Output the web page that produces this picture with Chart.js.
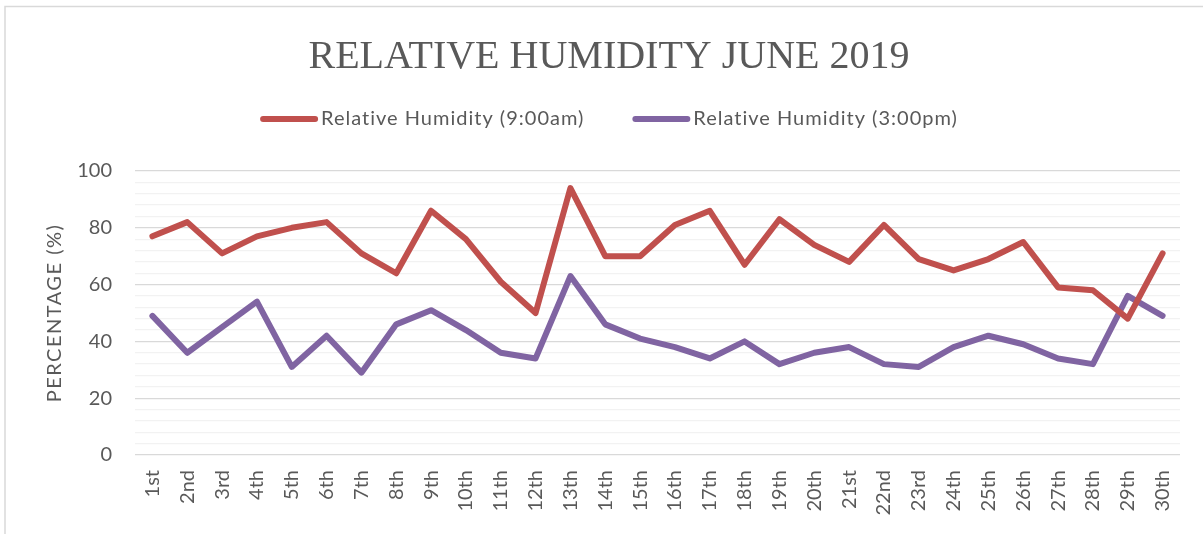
<!DOCTYPE html>
<html>
<head>
<meta charset="utf-8">
<script src="https://cdn.jsdelivr.net/npm/chart.js@4"></script>
<style>
  html, body { margin: 0; padding: 0; background: #fff; }
  #wrap { width: 1203px; height: 534px; }
</style>
</head>
<body>
<div id="wrap"><canvas id="myChart" width="1203" height="534"></canvas></div>
<script>
// data
const chartTitle = 'RELATIVE HUMIDITY JUNE 2019';
const yTitle = 'PERCENTAGE (%)';
const days = ['1st', '2nd', '3rd', '4th', '5th', '6th', '7th', '8th', '9th', '10th',
  '11th', '12th', '13th', '14th', '15th', '16th', '17th', '18th', '19th', '20th',
  '21st', '22nd', '23rd', '24th', '25th', '26th', '27th', '28th', '29th', '30th'];
const seriesNames = ['Relative Humidity (9:00am)', 'Relative Humidity (3:00pm)'];
const humidityAm = [77, 82, 71, 77, 80, 82, 71, 64, 86, 76, 61, 50, 94, 70, 70,
  81, 86, 67, 83, 74, 68, 81, 69, 65, 69, 75, 59, 58, 48, 71];
const humidityPm = [49, 36, 45, 54, 31, 42, 29, 46, 51, 44, 36, 34, 63, 46, 41,
  38, 34, 40, 32, 36, 38, 32, 31, 38, 42, 39, 34, 32, 56, 49];
const seriesColors = ['#C0504D', '#8064A2'];

const textColor = '#595959';
const sansFont = 'Lato';

// title, legend, y axis title and the outer frame
const framePlugin = {
  id: 'frame',
  beforeDraw: (chart) => {
    const ctx = chart.ctx;
    ctx.save();
    ctx.fillStyle = '#fff';
    ctx.fillRect(0, 0, chart.width, chart.height);
    ctx.strokeStyle = '#d9d9d9';
    ctx.lineWidth = 1.5;
    ctx.strokeRect(5, 6.5, chart.width + 20, chart.height + 20);
    ctx.restore();
  },
  afterDraw: (chart) => {
    const ctx = chart.ctx;
    const area = chart.chartArea;
    const cx = 609;
    ctx.save();
    ctx.fillStyle = textColor;
    ctx.textBaseline = 'middle';
    ctx.textAlign = 'center';
    ctx.font = '40px "Liberation Serif"';
    ctx.fillText(chartTitle, cx, 57);

    // legend
    ctx.font = '20px ' + sansFont;
    ctx.letterSpacing = '1px';
    ctx.textAlign = 'left';
    const lineLen = 58, gap = 3, between = 48;
    const widths = seriesNames.map((n) => ctx.measureText(n).width);
    const total = widths.reduce((a, w) => a + lineLen + gap + w, 0) + between;
    let x = cx - total / 2;
    seriesNames.forEach((name, i) => {
      ctx.strokeStyle = seriesColors[i];
      ctx.lineWidth = 6;
      ctx.lineCap = 'round';
      ctx.beginPath();
      ctx.moveTo(x + 3, 119);
      ctx.lineTo(x + lineLen - 3, 119);
      ctx.stroke();
      ctx.fillText(name, x + lineLen + gap, 119);
      x += lineLen + gap + widths[i] + between;
    });

    // y axis title
    ctx.font = '20px ' + sansFont;
    ctx.letterSpacing = '1.5px';
    ctx.textAlign = 'center';
    ctx.translate(55, (area.top + area.bottom) / 2);
    ctx.rotate(-Math.PI / 2);
    ctx.fillText(yTitle, 0, 0);
    ctx.restore();
  },
};

const ctx = document.getElementById('myChart');

new Chart(ctx, {
  type: 'line',
  data: {
    labels: days,
    datasets: [
      {
        label: seriesNames[0],
        data: humidityAm,
        borderColor: seriesColors[0],
        backgroundColor: seriesColors[0],
      },
      {
        label: seriesNames[1],
        data: humidityPm,
        borderColor: seriesColors[1],
        backgroundColor: seriesColors[1],
      },
    ],
  },
  options: {
    responsive: false,
    animation: false,
    layout: { padding: { top: 171, right: 23, left: 0, bottom: 0 } },
    elements: {
      line: { borderWidth: 6, tension: 0, borderJoinStyle: 'round', borderCapStyle: 'round' },
      point: { radius: 0, hoverRadius: 0 },
    },
    plugins: {
      legend: { display: false },
      title: { display: false },
      tooltip: { enabled: false },
    },
    scales: {
      x: {
        offset: true,
        grid: { display: false, drawTicks: false },
        border: { display: false },
        ticks: {
          color: textColor,
          font: { family: sansFont, size: 20 },
          minRotation: 90,
          maxRotation: 90,
          autoSkip: false,
          padding: 15,
        },
        afterFit: (s) => { s.height = 79; },
      },
      y: {
        min: 0,
        max: 100,
        grid: {
          drawTicks: false,
          color: (c) => (c.tick && c.tick.value % 20 === 0 ? '#d9d9d9' : '#f2f2f2'),
          lineWidth: 1.3,
        },
        border: { display: false },
        ticks: {
          stepSize: 4,
          autoSkip: false,
          color: textColor,
          font: { family: sansFont, size: 20 },
          padding: 23,
          callback: (v) => (v % 20 === 0 ? v : ''),
        },
        afterFit: (s) => { s.width = 135; },
      },
    },
  },
  plugins: [framePlugin],
});
</script>
</body>
</html>
